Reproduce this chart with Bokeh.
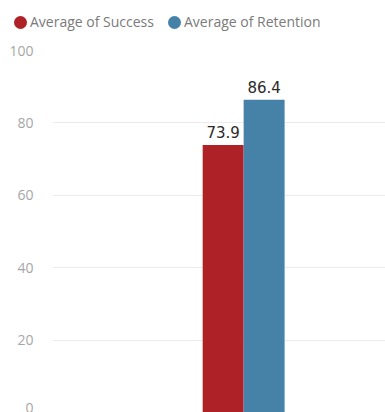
from bokeh.plotting import figure
from bokeh.models import Range1d, ColumnDataSource, FixedTicker, Div
from bokeh.layouts import column
from bokeh.core.properties import value
from bokeh.embed import file_html
from bokeh.resources import INLINE

series = ["Average of Success", "Average of Retention"]
values = [73.9, 86.4]
colors = ["#AE2126", "#4682A8"]
y_ticks = [0, 20, 40, 60, 80, 100]

# legend as HTML text
parts = []
for i, (s, c) in enumerate(zip(series, colors)):
    ml = "0px" if i == 0 else "14px"
    parts.append(
        f'<span style="display:inline-block;width:13px;height:13px;border-radius:50%;'
        f'background:{c};margin-left:{ml};margin-right:3px;"></span>'
        f'<span>{s}</span>'
    )
legend_html = (
    '<div style="display:flex;align-items:center;font-family:\'Open Sans\';font-size:14px;'
    'color:#7A7A7A;padding-left:14px;padding-top:12px;white-space:nowrap;">'
    + "".join(parts) + "</div>"
)
legend = Div(text=legend_html, width=385, height=38, margin=(0, 0, 0, 0))

p = figure(width=385, height=374, output_backend="svg", toolbar_location=None,
           x_range=Range1d(0, 1), y_range=Range1d(0, 100),
           min_border_left=52, min_border_right=0, min_border_bottom=0, min_border_top=12)
p.margin = (0, 0, 0, 0)
p.outline_line_color = None
p.xaxis.visible = False
p.xgrid.visible = False
p.ygrid.grid_line_color = "#EBEBEB"
p.ygrid.grid_line_width = 1
ya = p.yaxis[0]
ya.ticker = FixedTicker(ticks=y_ticks)
ya.axis_line_color = None
ya.major_tick_line_color = None
ya.minor_tick_line_color = None
ya.major_label_standoff = 13
ya.major_label_text_font = "Open Sans"
ya.major_label_text_font_size = "14px"
ya.major_label_text_color = "#A6A6A6"

center = 0.574
bw = 0.123
xs = [center - bw / 2, center + bw / 2]
src = ColumnDataSource(dict(x=xs, top=values, color=colors, label=[f"{v:.1f}" for v in values]))
p.vbar(x="x", top="top", width=bw, bottom=0, fill_color="color", line_color=None, source=src)
p.text(x="x", y="top", text="label", source=src, text_align="center", text_baseline="bottom",
       y_offset=-7, text_font=value("DejaVu Sans"), text_font_size="15px", text_color="#2A2A2A")

layout = column(legend, p, spacing=0, margin=(0, 0, 0, 0))
open("out.html", "w").write(file_html(layout, INLINE))
